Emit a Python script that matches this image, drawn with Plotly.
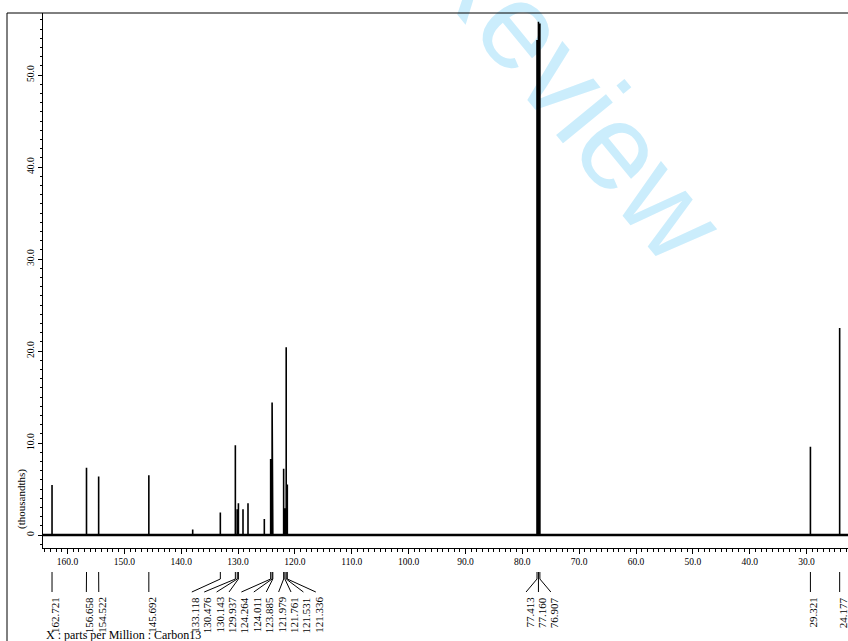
import plotly.graph_objects as go

# ---- 13C spectrum data (ppm, intensity in thousandths) ----
peak_ppm = [162.721, 156.658, 154.522, 145.692, 133.118, 130.476, 130.143, 129.937,
            124.264, 124.011, 123.885, 121.979, 121.761, 121.531, 121.336,
            77.413, 77.160, 76.907, 29.321, 24.177]
peak_height = [5.45, 7.3, 6.35, 6.5, 2.45, 9.75, 2.8, 3.45,
               8.25, 14.4, 5.3, 7.2, 2.9, 20.4, 5.5,
               53.8, 55.8, 55.6, 9.6, 22.5]
peak_label = ["162.721", "156.658", "154.522", "145.692", "133.118", "130.476", "130.143",
              "129.937", "124.264", "124.011", "123.885", "121.979", "121.761", "121.531",
              "121.336", "77.413", "77.160", "76.907", "29.321", "24.177"]

# small lines without a label
minor_ppm = [137.98, 129.13, 128.25, 125.38]
minor_height = [0.6, 2.8, 3.45, 1.75]

x_ticks = [160.0, 150.0, 140.0, 130.0, 120.0, 110.0, 100.0, 90.0,
           80.0, 70.0, 60.0, 50.0, 40.0, 30.0]
x_tick_text = ["160.0", "150.0", "140.0", "130.0", "120.0", "110.0", "100.0", "90.0",
               "80.0", "70.0", "60.0", "50.0", "40.0", "30.0"]
y_ticks = [0, 10, 20, 30, 40, 50]
y_tick_text = ["0", "10.0", "20.0", "30.0", "40.0", "50.0"]

# ---- page geometry ----
W, H = 848, 641
AX_LEFT, AX_TOP, AX_BOTTOM = 43, 13, 548     # plot box in pixels
X_LEFT, X_RIGHT = 164.31, 22.71              # visible ppm window
Y_LOW, Y_HIGH = -1.41, 56.74                 # visible intensity window
SERIF = "Liberation Serif"


def px(xp):
    return xp / W


def py(yp):
    return 1 - yp / H


# ---- stick spectrum ----
lines = sorted(zip(peak_ppm + minor_ppm, peak_height + minor_height), reverse=True)
sx, sy = [X_LEFT], [0]
for p, h in lines:
    sx += [p, p, p]
    sy += [0, h, 0]
sx.append(X_RIGHT)
sy.append(0)

fig = go.Figure()
fig.add_trace(go.Scatter(x=[X_LEFT, X_RIGHT], y=[0, 0], mode="lines",
                         line=dict(color="black", width=2.4), hoverinfo="skip"))
fig.add_trace(go.Scatter(x=sx, y=sy, mode="lines",
                         line=dict(color="black", width=1.6), hoverinfo="skip"))

# ---- peak label layout: groups of labels spread evenly around the
#      midpoint of their peaks, merged while they overlap ----
ppm_per_px = (X_LEFT - X_RIGHT) / (W - AX_LEFT)
spacing = 12.4 * ppm_per_px
order = sorted(range(len(peak_ppm)), key=lambda i: -peak_ppm[i])
groups = [[i] for i in order]


def place(g):
    hi, lo = peak_ppm[g[0]], peak_ppm[g[-1]]
    c = (hi + lo) / 2
    n = len(g)
    return [c + spacing * ((n - 1) / 2 - k) for k in range(n)]


changed = True
while changed:
    changed = False
    for a in range(len(groups) - 1):
        pa, pb = place(groups[a]), place(groups[a + 1])
        if pa[-1] - pb[0] < spacing - 1e-9:
            groups[a] = groups[a] + groups[a + 1]
            del groups[a + 1]
            changed = True
            break

label_x = {}
for g in groups:
    for i, pos in zip(g, place(g)):
        label_x[i] = pos

# leader lines in the strip under the axis (units: pixels below the axis line)
lx, ly = [], []
for i in order:
    lx += [peak_ppm[i], peak_ppm[i], label_x[i], None]
    ly += [24, 31, 44, None]
fig.add_trace(go.Scatter(x=lx, y=ly, xaxis="x2", yaxis="y2", mode="lines",
                         line=dict(color="black", width=1), hoverinfo="skip"))

annotations = []
for i in order:
    annotations.append(dict(
        x=label_x[i] - 3 * ppm_per_px, y=47, xref="x2", yref="y2", text=peak_label[i],
        textangle=-90, showarrow=False, xanchor="center", yanchor="top",
        font=dict(family=SERIF, size=11, color="black")))

annotations.append(dict(
    x=px(21), y=py(499), xref="paper", yref="paper", text="(thousandths)",
    textangle=-90, showarrow=False, xanchor="center", yanchor="middle",
    font=dict(family=SERIF, size=11, color="black")))
annotations.append(dict(
    x=px(44), y=py(635), xref="paper", yref="paper",
    text="X : parts per Million : Carbon13", showarrow=False,
    xanchor="left", yanchor="middle",
    font=dict(family=SERIF, size=12, color="black")))

shapes = [
    # frame
    dict(type="line", xref="paper", yref="paper", x0=px(7), x1=1, y0=py(AX_TOP), y1=py(AX_TOP),
         line=dict(color="black", width=1)),
    dict(type="line", xref="paper", yref="paper", x0=px(7), x1=px(7), y0=py(AX_TOP), y1=0,
         line=dict(color="black", width=1)),
    # watermark, kept under the spectrum
    dict(type="line", xref="paper", yref="paper", layer="below",
         x0=px(368 - 60), y0=py(-69 - 73), x1=px(368 + 60), y1=py(-69 + 73),
         line=dict(color="rgba(0,0,0,0)", width=0),
         label=dict(text="For Peer Review", textangle=50.6, textposition="middle",
                    font=dict(family="Liberation Sans", size=122, color="#cbedfc"))),
]

fig.update_layout(
    width=W, height=H,
    margin=dict(l=0, r=0, t=0, b=0),
    paper_bgcolor="white", plot_bgcolor="rgba(0,0,0,0)",
    showlegend=False,
    annotations=annotations,
    shapes=shapes,
    xaxis=dict(domain=[px(AX_LEFT), 1], range=[X_LEFT, X_RIGHT], anchor="y",
               showgrid=False, zeroline=False, showline=True, linecolor="black",
               linewidth=1, ticks="outside", ticklen=5, tickcolor="black",
               tickvals=x_ticks, ticktext=x_tick_text,
               tickfont=dict(family=SERIF, size=9.5, color="black"),
               minor=dict(dtick=1, tick0=0, ticks="outside", ticklen=3,
                          tickcolor="black", showgrid=False)),
    yaxis=dict(domain=[py(AX_BOTTOM), py(AX_TOP)], range=[Y_LOW, Y_HIGH], anchor="x",
               showgrid=False, zeroline=False, showline=True,
               linecolor="black", linewidth=1, ticks="outside", ticklen=4,
               tickcolor="black", tickvals=y_ticks, ticktext=y_tick_text,
               tickangle=-90, tickfont=dict(family=SERIF, size=9.5, color="black"),
               minor=dict(dtick=1, tick0=0, ticks="outside", ticklen=2,
                          tickcolor="black", showgrid=False)),
    xaxis2=dict(domain=[px(AX_LEFT), 1], matches="x", anchor="y2", visible=False),
    yaxis2=dict(domain=[0, py(AX_BOTTOM)], range=[H - AX_BOTTOM, 0], anchor="x2",
                visible=False),
)

fig.write_html("out.html")
